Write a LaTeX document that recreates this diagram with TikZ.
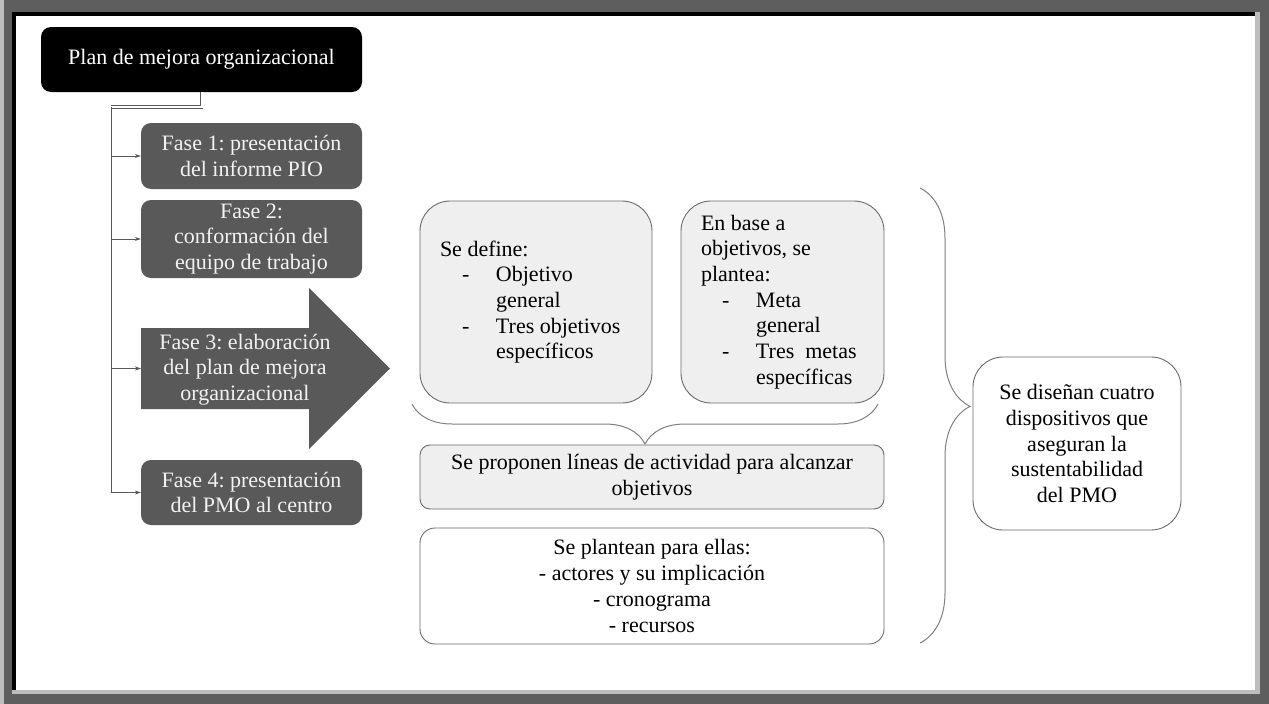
\documentclass[tikz,border=0pt]{standalone}
\usepackage{fontspec}
\setmainfont{Liberation Serif}
\usetikzlibrary{arrows.meta,decorations.pathreplacing}
\definecolor{framedark}{HTML}{5E5E5E}
\definecolor{framelight}{HTML}{BDBDBD}
\definecolor{phasegray}{HTML}{595959}
\definecolor{phasetext}{HTML}{F2F2F2}
\definecolor{boxfill}{HTML}{EFEFEF}
\definecolor{boxline}{HTML}{6B6B6B}
\definecolor{bracegray}{HTML}{808080}
\newcommand\bodyfont{\fontsize{22}{25.7}\selectfont\frenchspacing}
\tikzset{
  titlebox/.style={fill=black, text=white, rounded corners=10pt, minimum width=321pt,
    minimum height=65pt, font=\bodyfont, align=center},
  phasebox/.style={fill=phasegray, text=phasetext, rounded corners=10pt, minimum width=221pt,
    font=\bodyfont, align=center},
  softbox/.style={draw=boxline, line width=0.9pt, fill=boxfill, font=\bodyfont},
  plainbox/.style={draw=boxline, line width=0.9pt, fill=white, font=\bodyfont},
  feed/.style={draw=phasegray, line width=0.9pt},
  feedarrow/.style={feed, -{Stealth[length=6pt,width=4pt]}},
  bigbrace/.style={draw=bracegray, line width=1pt, decorate},
}
\begin{document}
\begin{tikzpicture}[x=1pt,y=-1pt]
% page frame
\useasboundingbox (0,0) rectangle (1269,704);
\fill[framedark] (0,0) rectangle (1269,704);
\fill[framelight] (0,0) rectangle (4,704);
\fill[framelight] (12,12) rectangle (1260,694);
\fill[black] (12,12) rectangle (1255,690);
\fill[white] (16,16) rectangle (1255,690);

% title and phases
\node[titlebox] (title) at (201.5,59.5) {Plan de mejora organizacional};
\node[phasebox, minimum height=66pt] (f1) at (251.5,156) {Fase 1: presentación\\del informe PIO};
\node[phasebox, minimum height=78pt] (f2) at (251.5,239) {Fase 2:\\conformación del\\equipo de trabajo};
\fill[phasegray] (141,328) -- (309,328) -- (309,288) -- (390,368.5) -- (309,449) -- (309,409) -- (141,409) -- cycle;
\coordinate (f3in) at (141,368.5);
\node[font=\bodyfont, text=phasetext, align=center] (f3) at (245,369.5) {Fase 3: elaboración\\del plan de mejora\\organizacional};
\node[phasebox, minimum height=65pt] (f4) at (251.5,492.5) {Fase 4: presentación\\del PMO al centro};

% connectors from the title to each phase
\coordinate (elbow) at (111,107);
\draw[feed, double=white, double distance=2pt, line width=0.7pt] (title.south) |- (elbow);
\draw[feed] (elbow) -- (elbow |- f4.west);
\draw[feedarrow] (elbow |- f1.west) -- (f1.west);
\draw[feedarrow] (elbow |- f2.west) -- (f2.west);
\draw[feedarrow] (elbow |- f3in) -- (f3in);
\draw[feedarrow] (elbow |- f4.west) -- (f4.west);

% content of phase 3
\node[softbox, rounded corners=30pt, minimum width=232pt, minimum height=202pt,
  text width=192pt, inner xsep=20pt, align=flush left] (define) at (536,302)
  {Se define:\\
   \hspace*{22pt}\makebox[34pt][l]{-}Objetivo\\
   \hspace*{56pt}general\\
   \hspace*{22pt}\makebox[34pt][l]{-}Tres objetivos\\
   \hspace*{56pt}específicos};
\node[softbox, rounded corners=30pt, minimum width=203pt, minimum height=202pt,
  text width=163pt, inner xsep=20pt, align=flush left] (metas) at (782.5,302)
  {En base a\\
   objetivos, se\\
   plantea:\\
   \hspace*{21pt}\makebox[34pt][l]{-}Meta\\
   \hspace*{55pt}general\\
   \hspace*{21pt}\makebox[34pt][l]{-}Tres\ \ metas\\
   \hspace*{55pt}específicas};
\node[softbox, rounded corners=10pt, minimum width=464pt, minimum height=64pt, align=center]
  (lineas) at (652,477) {Se proponen líneas de actividad para alcanzar\\objetivos};
\node[plainbox, rounded corners=15pt, minimum width=464pt, minimum height=116pt, align=center]
  (ellas) at (652,586) {Se plantean para ellas:\\- actores y su implicación\\- cronograma\\- recursos};
\node[plainbox, rounded corners=30pt, minimum width=208pt, minimum height=173pt, align=center]
  (dispositivos) at (1077,443.5) {Se diseñan cuatro\\dispositivos que\\aseguran la\\sustentabilidad\\del PMO};

% braces
\coordinate (bl) at (412,404);
\coordinate (br) at (878,404);
\draw[bigbrace, decoration={brace, amplitude=40pt}] (br) -- (bl);
\coordinate (rt) at (920,188);
\coordinate (rb) at (920,643);
\draw[bigbrace, decoration={brace, amplitude=50pt, aspect=0.48}] (rt) -- (rb);
\end{tikzpicture}
\end{document}
